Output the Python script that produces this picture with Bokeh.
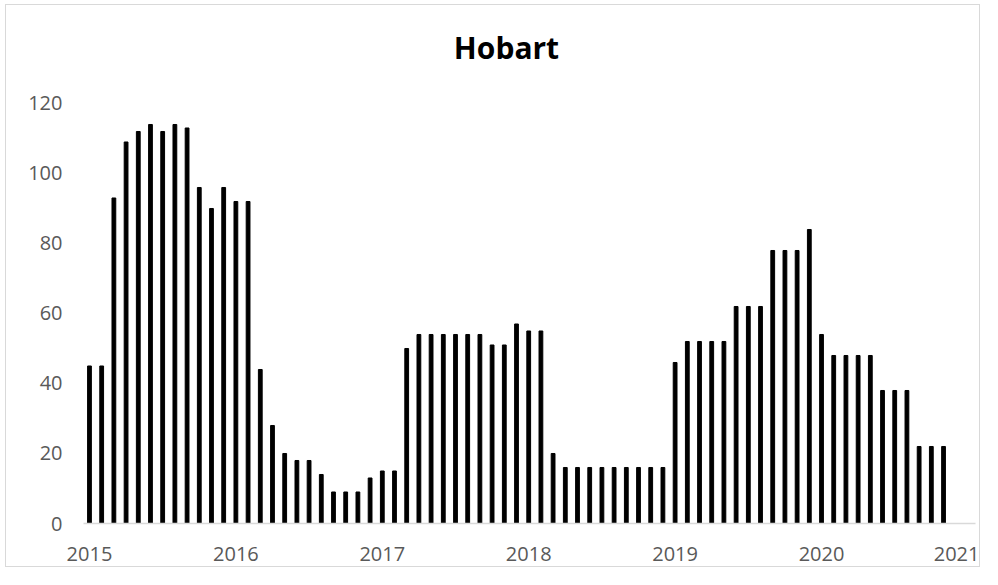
from bokeh.plotting import figure
from bokeh.models import FixedTicker, ColumnDataSource, Label
from bokeh.embed import file_html
from bokeh.resources import INLINE

chart_title = "Hobart"

# Monthly observations, Jan 2015 .. Nov 2020
months = [f"{y}-{m:02d}" for y in range(2015, 2021) for m in range(1, 13)][:71]
values = [45, 45, 93, 109, 112, 114, 112, 114, 113, 96, 90, 96,
          92, 92, 44, 28, 20, 18, 18, 14, 9, 9, 9, 13,
          15, 15, 50, 54, 54, 54, 54, 54, 54, 51, 51, 57,
          55, 55, 20, 16, 16, 16, 16, 16, 16, 16, 16, 16,
          46, 52, 52, 52, 52, 62, 62, 62, 78, 78, 78, 84,
          54, 48, 48, 48, 48, 38, 38, 38, 22, 22, 22]

year_labels = ["2015", "2016", "2017", "2018", "2019", "2020", "2021"]
y_ticks = [0, 20, 40, 60, 80, 100, 120]

# month offset from Jan 2015 (each month an equal slot, as on the source's date axis)
x = [(int(s[:4]) - 2015) * 12 + int(s[5:]) - 1 for s in months]
src = ColumnDataSource(dict(x=x, v=values, month=months))

FONT = "Open Sans"
GRAY = "#595959"

# frame reaches up to the top so the title can sit inside it (no outline, no grid)
p = figure(width=975, height=563, x_range=(-0.49, 72.62), y_range=(0, 146.57),
           output_backend="svg", toolbar_location=None,
           min_border_left=77, min_border_right=6,
           min_border_top=5, min_border_bottom=45)
p.styles = {"border": "1px solid #d9d9d9", "margin": "4px 0px 0px 5px"}
p.outline_line_color = None
p.background_fill_color = "white"
p.border_fill_color = "white"

p.vbar(x="x", top="v", bottom=0, width=0.31, color="black", source=src)

year_ticks = [(int(y) - 2015) * 12 for y in year_labels]
p.xaxis.ticker = FixedTicker(ticks=year_ticks)
p.xaxis.major_label_overrides = {t: l for t, l in zip(year_ticks, year_labels)}
p.xaxis.axis_line_color = "#d9d9d9"
p.xaxis.axis_line_width = 1.5
p.xaxis.major_tick_line_color = None
p.xaxis.minor_tick_line_color = None
p.xaxis.major_label_standoff = 17
p.xaxis.major_label_text_font = FONT
p.xaxis.major_label_text_font_size = "20px"
p.xaxis.major_label_text_color = GRAY

p.yaxis.ticker = FixedTicker(ticks=y_ticks)
p.yaxis.axis_line_color = None
p.yaxis.major_tick_line_color = None
p.yaxis.minor_tick_line_color = None
p.yaxis.major_label_standoff = 15
p.yaxis.major_label_text_font = FONT
p.yaxis.major_label_text_font_size = "20px"
p.yaxis.major_label_text_color = GRAY

p.xgrid.visible = False
p.ygrid.visible = False

p.add_layout(Label(x=34.18, y=136.0, text=chart_title, text_align="center",
                   text_baseline="alphabetic", text_font=FONT,
                   text_font_size="30px", text_font_style="bold",
                   text_color="black"))

open("out.html", "w").write(file_html(p, INLINE))
